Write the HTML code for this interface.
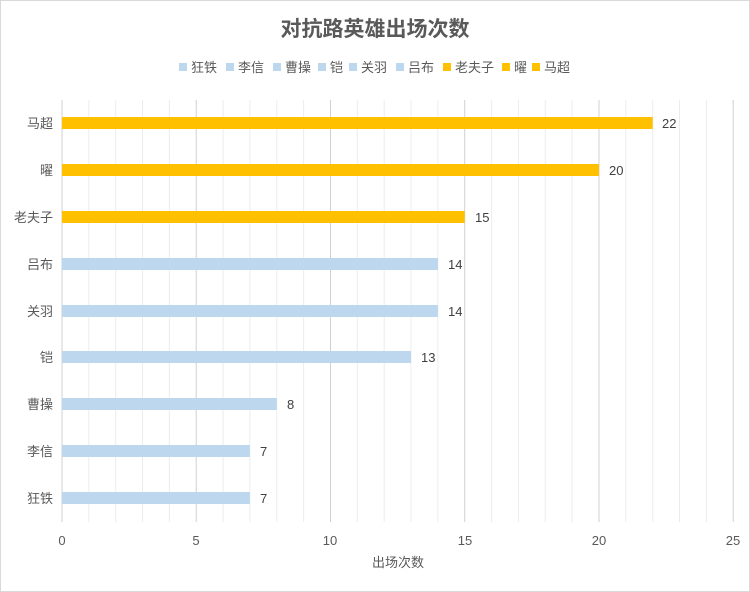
<!DOCTYPE html>
<html><head><meta charset="utf-8"><style>
body{margin:0;background:#fff}
svg{display:block;font-family:"Liberation Sans","Noto Sans CJK SC",sans-serif}
</style></head><body>
<svg width="750" height="592" viewBox="0 0 750 592">
<rect x="0.5" y="0.5" width="749" height="591" fill="#fff" stroke="#d9d9d9"/>
<text x="375" y="36" text-anchor="middle" font-size="21" font-weight="bold" fill="#595959">对抗路英雄出场次数</text>
<g font-size="13" fill="#595959">
<rect x="179" y="63" width="8" height="8" fill="#bdd7ee"/><text x="191" y="72">狂铁</text>
<rect x="226" y="63" width="8" height="8" fill="#bdd7ee"/><text x="238" y="72">李信</text>
<rect x="273" y="63" width="8" height="8" fill="#bdd7ee"/><text x="285" y="72">曹操</text>
<rect x="318" y="63" width="8" height="8" fill="#bdd7ee"/><text x="330" y="72">铠</text>
<rect x="349" y="63" width="8" height="8" fill="#bdd7ee"/><text x="361" y="72">关羽</text>
<rect x="396" y="63" width="8" height="8" fill="#bdd7ee"/><text x="408" y="72">吕布</text>
<rect x="443" y="63" width="8" height="8" fill="#ffc000"/><text x="455" y="72">老夫子</text>
<rect x="502" y="63" width="8" height="8" fill="#ffc000"/><text x="514" y="72">曜</text>
<rect x="532" y="63" width="8" height="8" fill="#ffc000"/><text x="544" y="72">马超</text>
</g>
<g stroke="#ececec" stroke-width="1">
<line x1="88.8" y1="100" x2="88.8" y2="522"/><line x1="115.7" y1="100" x2="115.7" y2="522"/><line x1="142.5" y1="100" x2="142.5" y2="522"/><line x1="169.4" y1="100" x2="169.4" y2="522"/>
<line x1="223.1" y1="100" x2="223.1" y2="522"/><line x1="249.9" y1="100" x2="249.9" y2="522"/><line x1="276.8" y1="100" x2="276.8" y2="522"/><line x1="303.6" y1="100" x2="303.6" y2="522"/>
<line x1="357.3" y1="100" x2="357.3" y2="522"/><line x1="384.2" y1="100" x2="384.2" y2="522"/><line x1="411" y1="100" x2="411" y2="522"/><line x1="437.9" y1="100" x2="437.9" y2="522"/>
<line x1="491.6" y1="100" x2="491.6" y2="522"/><line x1="518.4" y1="100" x2="518.4" y2="522"/><line x1="545.3" y1="100" x2="545.3" y2="522"/><line x1="572.1" y1="100" x2="572.1" y2="522"/>
<line x1="625.8" y1="100" x2="625.8" y2="522"/><line x1="652.7" y1="100" x2="652.7" y2="522"/><line x1="679.5" y1="100" x2="679.5" y2="522"/><line x1="706.4" y1="100" x2="706.4" y2="522"/>
</g>
<g stroke="#d0d0d0" stroke-width="1">
<line x1="62" y1="100" x2="62" y2="522"/><line x1="196.2" y1="100" x2="196.2" y2="522"/><line x1="330.5" y1="100" x2="330.5" y2="522"/><line x1="464.7" y1="100" x2="464.7" y2="522"/><line x1="599" y1="100" x2="599" y2="522"/><line x1="733.2" y1="100" x2="733.2" y2="522"/>
</g>
<g>
<rect x="62" y="117" width="590.7" height="12" fill="#ffc000"/>
<rect x="62" y="164" width="537" height="12" fill="#ffc000"/>
<rect x="62" y="211" width="402.7" height="12" fill="#ffc000"/>
<rect x="62" y="258" width="375.9" height="12" fill="#bdd7ee"/>
<rect x="62" y="305" width="375.9" height="12" fill="#bdd7ee"/>
<rect x="62" y="351" width="349" height="12" fill="#bdd7ee"/>
<rect x="62" y="398" width="214.8" height="12" fill="#bdd7ee"/>
<rect x="62" y="445" width="187.9" height="12" fill="#bdd7ee"/>
<rect x="62" y="492" width="187.9" height="12" fill="#bdd7ee"/>
</g>
<g font-size="13" fill="#404040">
<text x="662" y="128">22</text><text x="609" y="175">20</text><text x="475" y="222">15</text>
<text x="448" y="269">14</text><text x="448" y="316">14</text><text x="421" y="362">13</text>
<text x="287" y="409">8</text><text x="260" y="456">7</text><text x="260" y="503">7</text>
</g>
<g font-size="13" fill="#595959" text-anchor="end">
<text x="53" y="128">马超</text><text x="53" y="175">曜</text><text x="53" y="222">老夫子</text>
<text x="53" y="269">吕布</text><text x="53" y="316">关羽</text><text x="53" y="362">铠</text>
<text x="53" y="409">曹操</text><text x="53" y="456">李信</text><text x="53" y="503">狂铁</text>
</g>
<g font-size="13" fill="#595959" text-anchor="middle">
<text x="62" y="545">0</text><text x="196" y="545">5</text><text x="330" y="545">10</text><text x="465" y="545">15</text><text x="599" y="545">20</text><text x="733" y="545">25</text>
<text x="398" y="567">出场次数</text>
</g>
</svg>
</body></html>
